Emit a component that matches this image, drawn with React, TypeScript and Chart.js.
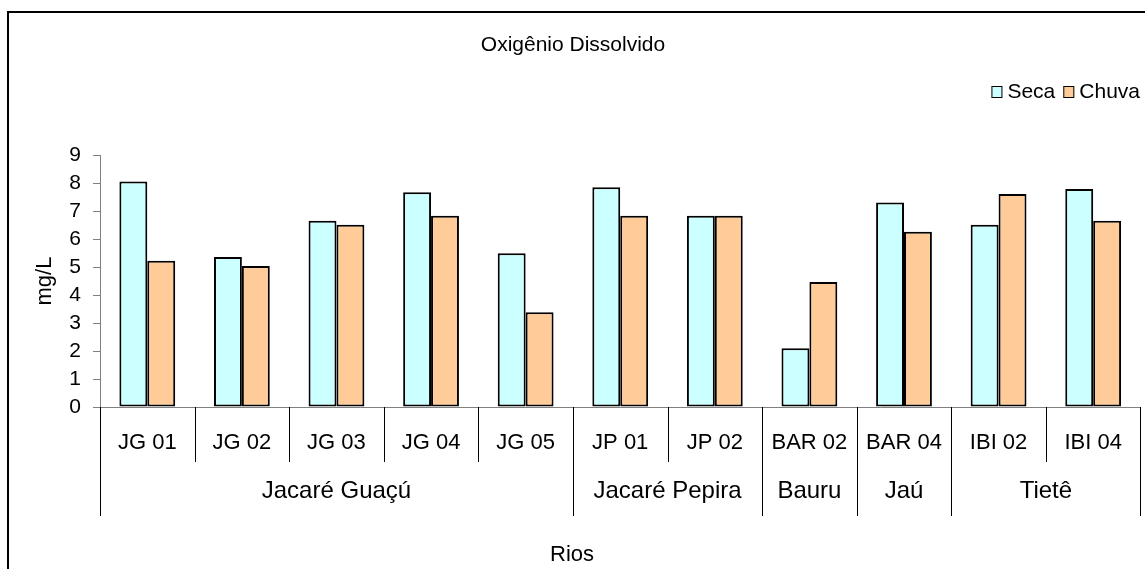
import React, { useEffect, useRef } from "react";
import { Chart, registerables } from "chart.js";

Chart.register(...registerables);

const categories = ["JG 01", "JG 02", "JG 03", "JG 04", "JG 05", "JP 01", "JP 02", "BAR 02", "BAR 04", "IBI 02", "IBI 04"];
const secaValues = [8.05, 5.36, 6.65, 7.67, 5.49, 7.85, 6.83, 2.1, 7.3, 6.51, 7.79];
const chuvaValues = [5.22, 5.04, 6.51, 6.83, 3.38, 6.83, 6.83, 4.46, 6.26, 7.61, 6.65];
const groupLabels = ["Jacaré Guaçú", "Jacaré Pepira", "Bauru", "Jaú", "Tietê"];
const groupSpans = [5, 2, 1, 1, 2];
const yTicks = [0, 1, 2, 3, 4, 5, 6, 7, 8, 9];

const FONT = "Liberation Sans, Arial, sans-serif";
const W = 1145;
const H = 569;

const decorPlugin = {
  id: "decor",
  beforeDraw(chart: any) {
    const ctx = chart.ctx;
    ctx.save();
    ctx.fillStyle = "#ffffff";
    ctx.fillRect(0, 0, chart.width, chart.height);
    ctx.strokeStyle = "#000000";
    ctx.lineWidth = 2;
    ctx.strokeRect(8, 12, chart.width + 10, chart.height + 10);
    ctx.restore();
  },
  afterDraw(chart: any) {
    const ctx = chart.ctx;
    const x = chart.scales.x;
    const area = chart.chartArea;
    const n = categories.length;
    const cw = (area.right - area.left) / n;
    ctx.save();
    const groupEdges = new Set<number>();
    let acc = 0;
    groupEdges.add(0);
    groupSpans.forEach((s) => {
      acc += s;
      groupEdges.add(acc);
    });
    ctx.strokeStyle = "#000000";
    ctx.lineWidth = 1;
    for (let i = 0; i <= n; i++) {
      const px = i < n ? x.getPixelForValue(i) - cw / 2 : x.getPixelForValue(n - 1) + cw / 2;
      const xx = Math.round(px) + 0.5;
      const yEnd = groupEdges.has(i) ? 516 : 462;
      ctx.beginPath();
      ctx.moveTo(xx, area.bottom);
      ctx.lineTo(xx, yEnd);
      ctx.stroke();
    }
    ctx.fillStyle = "#000000";
    ctx.textAlign = "center";
    ctx.textBaseline = "middle";
    ctx.font = `24px ${FONT}`;
    let start = 0;
    groupLabels.forEach((g, gi) => {
      const end = start + groupSpans[gi] - 1;
      const cx = (x.getPixelForValue(start) + x.getPixelForValue(end)) / 2;
      ctx.fillText(g, cx, 491);
      start = end + 1;
    });
    ctx.font = `22px ${FONT}`;
    ctx.fillText("Rios", 572, 555);
    ctx.save();
    ctx.translate(45, 281);
    ctx.rotate(-Math.PI / 2);
    ctx.fillText("mg/L", 0, 0);
    ctx.restore();
    ctx.font = `21px ${FONT}`;
    ctx.fillText("Oxigênio Dissolvido", 573, 45);
    // legend, right-aligned
    ctx.font = `21px ${FONT}`;
    const items = chart.data.datasets.map((d: any) => ({ label: d.label, color: d.backgroundColor }));
    const sq = 11;
    const gapText = 5;
    const gapItem = 8;
    let total = 0;
    items.forEach((it: any, i: number) => {
      total += sq + gapText + ctx.measureText(it.label).width + (i < items.length - 1 ? gapItem : 0);
    });
    let lx = 1140 - total;
    const ly = 92;
    items.forEach((it: any) => {
      ctx.fillStyle = it.color;
      ctx.fillRect(lx, ly - 6, sq, 12);
      ctx.strokeStyle = "#000";
      ctx.lineWidth = 1;
      ctx.strokeRect(lx + 0.5, ly - 5.5, sq - 1, 11);
      ctx.fillStyle = "#000";
      ctx.textAlign = "left";
      ctx.fillText(it.label, lx + sq + gapText, ly);
      lx += sq + gapText + ctx.measureText(it.label).width + gapItem;
    });
    ctx.restore();
  },
};

export default function App() {
  const ref = useRef<HTMLCanvasElement | null>(null);
  useEffect(() => {
    if (!ref.current) return;
    const chart = new Chart(ref.current, {
      type: "bar",
      data: {
        labels: categories,
        datasets: [
          {
            label: "Seca",
            data: secaValues,
            backgroundColor: "#CCFFFF",
            borderColor: "#000000",
            borderWidth: 2,
            borderSkipped: false,
            categoryPercentage: 0.59,
            barPercentage: 1.0,
          },
          {
            label: "Chuva",
            data: chuvaValues,
            backgroundColor: "#FFCC99",
            borderColor: "#000000",
            borderWidth: 2,
            borderSkipped: false,
            categoryPercentage: 0.59,
            barPercentage: 1.0,
          },
        ],
      },
      options: {
        animation: false,
        responsive: true,
        maintainAspectRatio: false,
        layout: { padding: { left: 0, right: 2, top: 155, bottom: 0 } },
        plugins: {
          legend: { display: false },
          title: { display: false },
          tooltip: { enabled: false },
        },
        scales: {
          x: {
            type: "category",
            offset: true,
            grid: { display: false, drawTicks: false },
            border: { display: true, color: "#808080", width: 1 },
            ticks: {
              color: "#000",
              font: { family: FONT, size: 22 },
              padding: 23,
              maxRotation: 0,
              minRotation: 0,
              autoSkip: false,
            },
            afterFit: (s: any) => {
              s.height = 162;
            },
          },
          y: {
            min: 0,
            max: 9,
            afterBuildTicks: (s: any) => {
              s.ticks = yTicks.map((v) => ({ value: v }));
            },
            grid: { drawOnChartArea: false, drawTicks: true, tickLength: 7, color: "#808080" },
            border: { display: true, color: "#808080", width: 1 },
            ticks: {
              color: "#000",
              font: { family: FONT, size: 21 },
              padding: 12,
              autoSkip: false,
            },
            afterFit: (s: any) => {
              s.width = 100;
            },
          },
        },
      },
      plugins: [decorPlugin],
    });
    return () => chart.destroy();
  }, []);
  return (
    <div style={{ position: "absolute", left: 0, top: 0, width: W, height: H, background: "#fff" }}>
      <canvas ref={ref} />
    </div>
  );
}
